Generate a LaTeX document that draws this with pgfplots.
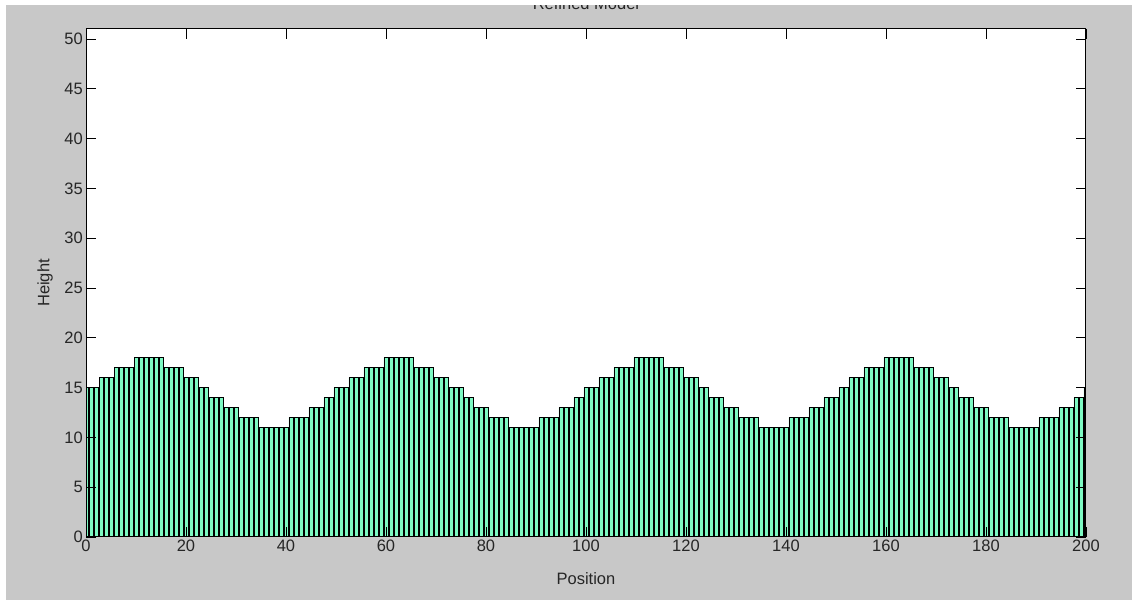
\documentclass[border=0pt]{standalone}
\usepackage{pgfplots}
\pgfplotsset{compat=1.18}
\usepackage{fontspec}
\setmainfont{Liberation Sans}
\definecolor{figgray}{RGB}{200,200,200}
\definecolor{barfill}{RGB}{125,250,195}
\begin{document}
\begin{tikzpicture}
\useasboundingbox (0bp,0bp) rectangle (1132bp,604bp);
\fill[white] (0bp,0bp) rectangle (1132bp,604bp);
\fill[figgray] (6bp,4bp) rectangle (1132bp,599bp);
\begin{axis}[
 at={(86bp,67bp)}, anchor=south west,
 width=1000bp, height=508bp, scale only axis,
 xmin=0, xmax=200, ymin=0, ymax=51,
 xtick={0,20,...,200}, ytick={0,5,...,50},
 tick align=inside, major tick length=10bp,
 axis background/.style={fill=white},
 axis line style={line width=1bp, black},
 every tick/.style={black, line width=0.8bp},
 ticklabel style={font=\fontsize{16.5bp}{19bp}\selectfont, text=black!85},
 xticklabel style={inner sep=3bp},
 yticklabel style={inner sep=3bp},
 /pgf/number format/assume math mode=true,
 xlabel={Position}, ylabel={Height}, title={Refined Model},
 label style={font=\fontsize{16.5bp}{19bp}\selectfont, text=black!85},
 xlabel style={at={([yshift=-47bp]axis description cs:0.5,0)}, anchor=base},
 ylabel style={at={([xshift=-41bp]axis description cs:0,0.5)}, anchor=center},
 title style={at={([yshift=13.5bp]axis description cs:0.5,1)}, anchor=base, font=\fontsize{16.5bp}{19bp}\selectfont, text=black!85},
 axis on top,
]
\addplot[ybar, bar width=0.8, fill=barfill, draw=black, line width=0.7bp] coordinates {
(0,15)(1,15)(2,15)(3,16)(4,16)(5,16)(6,17)(7,17)(8,17)(9,17)(10,18)(11,18)(12,18)(13,18)(14,18)(15,18)(16,17)(17,17)(18,17)(19,17)(20,16)(21,16)(22,16)(23,15)(24,15)(25,14)(26,14)(27,14)(28,13)(29,13)(30,13)(31,12)(32,12)(33,12)(34,12)(35,11)(36,11)(37,11)(38,11)(39,11)(40,11)(41,12)(42,12)(43,12)(44,12)(45,13)(46,13)(47,13)(48,14)(49,14)
(50,15)(51,15)(52,15)(53,16)(54,16)(55,16)(56,17)(57,17)(58,17)(59,17)(60,18)(61,18)(62,18)(63,18)(64,18)(65,18)(66,17)(67,17)(68,17)(69,17)(70,16)(71,16)(72,16)(73,15)(74,15)(75,15)(76,14)(77,14)(78,13)(79,13)(80,13)(81,12)(82,12)(83,12)(84,12)(85,11)(86,11)(87,11)(88,11)(89,11)(90,11)(91,12)(92,12)(93,12)(94,12)(95,13)(96,13)(97,13)(98,14)(99,14)
(100,15)(101,15)(102,15)(103,16)(104,16)(105,16)(106,17)(107,17)(108,17)(109,17)(110,18)(111,18)(112,18)(113,18)(114,18)(115,18)(116,17)(117,17)(118,17)(119,17)(120,16)(121,16)(122,16)(123,15)(124,15)(125,14)(126,14)(127,14)(128,13)(129,13)(130,13)(131,12)(132,12)(133,12)(134,12)(135,11)(136,11)(137,11)(138,11)(139,11)(140,11)(141,12)(142,12)(143,12)(144,12)(145,13)(146,13)(147,13)(148,14)(149,14)
(150,14)(151,15)(152,15)(153,16)(154,16)(155,16)(156,17)(157,17)(158,17)(159,17)(160,18)(161,18)(162,18)(163,18)(164,18)(165,18)(166,17)(167,17)(168,17)(169,17)(170,16)(171,16)(172,16)(173,15)(174,15)(175,14)(176,14)(177,14)(178,13)(179,13)(180,13)(181,12)(182,12)(183,12)(184,12)(185,11)(186,11)(187,11)(188,11)(189,11)(190,11)(191,12)(192,12)(193,12)(194,12)(195,13)(196,13)(197,13)(198,14)(199,14)
(200,15)
};
\end{axis}
\fill[white] (0bp,599bp) rectangle (1132bp,604bp);
\end{tikzpicture}
\end{document}
